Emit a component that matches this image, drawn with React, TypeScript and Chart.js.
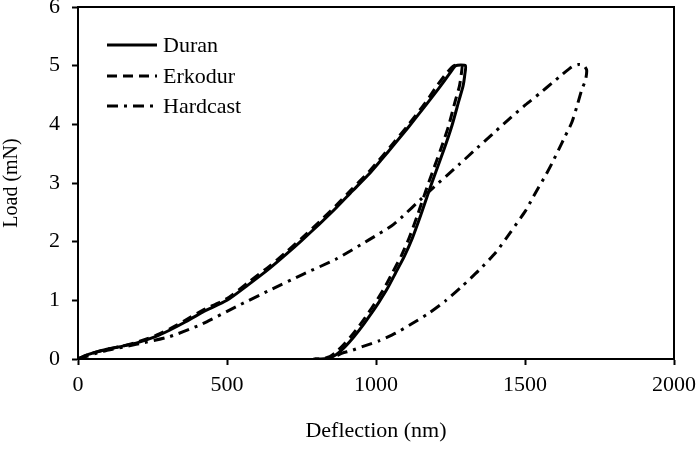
import React, { useEffect, useRef } from 'react';
import { Chart, registerables } from 'chart.js';

Chart.register(...registerables);

const seriesNames = ['Duran', 'Erkodur', 'Hardcast'];

const duranDeflection = [
  0, 30, 84, 150, 195, 260, 307, 360, 418, 500, 570, 642, 700, 753, 810, 865, 920, 976, 1020, 1060, 1110, 1166, 1210, 1245, 1268, 1300,
  1298, 1292, 1278, 1255, 1228, 1200, 1177, 1150, 1122, 1095, 1066, 1038, 1010, 982, 954, 926, 898, 875, 855, 835, 815, 795,
];
const duranLoad = [
  0, 0.07, 0.15, 0.22, 0.27, 0.38, 0.49, 0.63, 0.8, 1.0, 1.26, 1.54, 1.79, 2.03, 2.3, 2.57, 2.86, 3.15, 3.41, 3.65, 3.96, 4.32, 4.61, 4.85, 5.0, 5.0,
  4.85, 4.65, 4.4, 3.98, 3.57, 3.18, 2.85, 2.45, 2.06, 1.75, 1.47, 1.2, 0.97, 0.76, 0.56, 0.38, 0.22, 0.11, 0.04, 0.01, 0, 0,
];

const erkodurDeflection = [
  0, 30, 84, 150, 195, 260, 307, 360, 418, 500, 570, 642, 700, 753, 810, 865, 920, 976, 1020, 1060, 1110, 1166, 1205, 1238, 1262, 1288,
  1286, 1280, 1266, 1244, 1217, 1189, 1166, 1139, 1111, 1084, 1055, 1027, 999, 971, 943, 915, 887, 864, 845, 825, 805, 790,
];
const erkodurLoad = [
  0, 0.07, 0.15, 0.22, 0.28, 0.4, 0.51, 0.66, 0.83, 1.03, 1.3, 1.58, 1.83, 2.07, 2.34, 2.61, 2.9, 3.19, 3.45, 3.69, 4.0, 4.37, 4.66, 4.88, 5.0, 5.0,
  4.85, 4.65, 4.4, 3.98, 3.57, 3.18, 2.85, 2.45, 2.06, 1.75, 1.47, 1.2, 0.97, 0.76, 0.56, 0.38, 0.22, 0.11, 0.04, 0.01, 0, 0,
];

const hardcastDeflection = [
  0, 84, 195, 307, 418, 530, 642, 753, 865, 976, 1060, 1177, 1280, 1340, 1390, 1440, 1501, 1550, 1590, 1625, 1657, 1680, 1698, 1707,
  1703, 1691, 1675, 1657, 1635, 1613, 1590, 1568, 1545, 1523, 1501, 1450, 1401, 1345, 1289, 1233, 1177, 1120, 1066, 1010, 954, 915, 887, 870,
];
const hardcastLoad = [
  0, 0.13, 0.25, 0.38, 0.6, 0.89, 1.17, 1.44, 1.7, 2.03, 2.3, 2.85, 3.32, 3.6, 3.83, 4.06, 4.33, 4.53, 4.7, 4.85, 4.98, 5.02, 5.0, 4.92,
  4.75, 4.6, 4.32, 4.03, 3.8, 3.57, 3.33, 3.12, 2.92, 2.72, 2.52, 2.15, 1.81, 1.51, 1.24, 0.99, 0.78, 0.6, 0.44, 0.31, 0.21, 0.14, 0.1, 0.06,
];

const xTicks = [0, 500, 1000, 1500, 2000];
const yTicks = [0, 1, 2, 3, 4, 5, 6];

const FONT = "'Liberation Serif', 'Times New Roman', serif";

const toPoints = (xs: number[], ys: number[]) => xs.map((x, i) => ({ x, y: ys[i] }));

const boxPlugin = {
  id: 'boxAndLegend',
  afterDraw(chart: any) {
    const { ctx, chartArea } = chart;
    ctx.save();
    ctx.strokeStyle = '#000';
    ctx.lineWidth = 2;
    ctx.setLineDash([]);
    ctx.beginPath();
    ctx.moveTo(chartArea.left, chartArea.top);
    ctx.lineTo(chartArea.right, chartArea.top);
    ctx.lineTo(chartArea.right, chartArea.bottom);
    ctx.stroke();

    // legend
    const rows = [45, 76, 106];
    chart.data.datasets.forEach((ds: any, i: number) => {
      const y = rows[i];
      ctx.strokeStyle = '#000';
      ctx.lineWidth = ds.borderWidth;
      ctx.setLineDash(ds.borderDash || []);
      ctx.beginPath();
      ctx.moveTo(107, y);
      ctx.lineTo(157, y);
      ctx.stroke();
      ctx.setLineDash([]);
      ctx.fillStyle = '#000';
      ctx.font = `22px ${FONT}`;
      ctx.textBaseline = 'middle';
      ctx.textAlign = 'left';
      ctx.fillText(ds.label, 163, y + 1);
    });
    ctx.restore();
  },
};

export default function App() {
  const ref = useRef<HTMLCanvasElement | null>(null);

  useEffect(() => {
    if (!ref.current) return;
    const chart = new Chart(ref.current, {
      type: 'line',
      data: {
        datasets: [
          {
            label: seriesNames[0],
            data: toPoints(duranDeflection, duranLoad),
            borderColor: '#000',
            borderWidth: 3,
            borderDash: [],
            pointRadius: 0,
            tension: 0.2,
            fill: false,
          },
          {
            label: seriesNames[1],
            data: toPoints(erkodurDeflection, erkodurLoad),
            borderColor: '#000',
            borderWidth: 3,
            borderDash: [10, 6],
            pointRadius: 0,
            tension: 0.2,
            fill: false,
          },
          {
            label: seriesNames[2],
            data: toPoints(hardcastDeflection, hardcastLoad),
            borderColor: '#000',
            borderWidth: 3,
            borderDash: [11, 6, 3, 6],
            pointRadius: 0,
            tension: 0.2,
            fill: false,
          },
        ],
      },
      options: {
        animation: false,
        responsive: false,
        devicePixelRatio: 1,
        layout: { padding: { top: 7, right: 24, left: 0, bottom: 0 } },
        plugins: {
          legend: { display: false },
          tooltip: { enabled: false },
        },
        scales: {
          x: {
            type: 'linear',
            min: xTicks[0],
            max: xTicks[xTicks.length - 1],
            afterFit: (s: any) => { s.height = 96; s.paddingLeft = 0; s.paddingRight = 0; },
            afterBuildTicks: (s: any) => { s.ticks = xTicks.map((v) => ({ value: v })); },
            ticks: { color: '#000', font: { family: FONT, size: 22 }, padding: 7, maxRotation: 0, callback: (v: any) => String(v) },
            grid: { drawOnChartArea: false, tickLength: 6, tickWidth: 2, tickColor: '#000', color: '#000' },
            border: { display: true, color: '#000', width: 2 },
            title: { display: true, text: 'Deflection (nm)', color: '#000', font: { family: FONT, size: 22 }, padding: { top: 0, bottom: 11 } },
          },
          y: {
            type: 'linear',
            min: yTicks[0],
            max: yTicks[yTicks.length - 1],
            afterFit: (s: any) => { s.width = 78; s.paddingTop = 0; s.paddingBottom = 0; },
            afterBuildTicks: (s: any) => { s.ticks = yTicks.map((v) => ({ value: v })); },
            ticks: { color: '#000', font: { family: FONT, size: 22 }, padding: 12, callback: (v: any) => String(v) },
            grid: { drawOnChartArea: false, tickLength: 6, tickWidth: 2, tickColor: '#000', color: '#000' },
            border: { display: true, color: '#000', width: 2 },
            title: { display: true, text: 'Load (mN)', color: '#000', font: { family: FONT, size: 20 }, padding: { top: 0, bottom: 0 } },
          },
        },
      },
      plugins: [boxPlugin],
    } as any);
    return () => chart.destroy();
  }, []);

  return (
    <div style={{ position: 'fixed', left: 0, top: 0, width: 698, height: 455, background: '#fff' }}>
      <canvas ref={ref} width={698} height={455} />
    </div>
  );
}
